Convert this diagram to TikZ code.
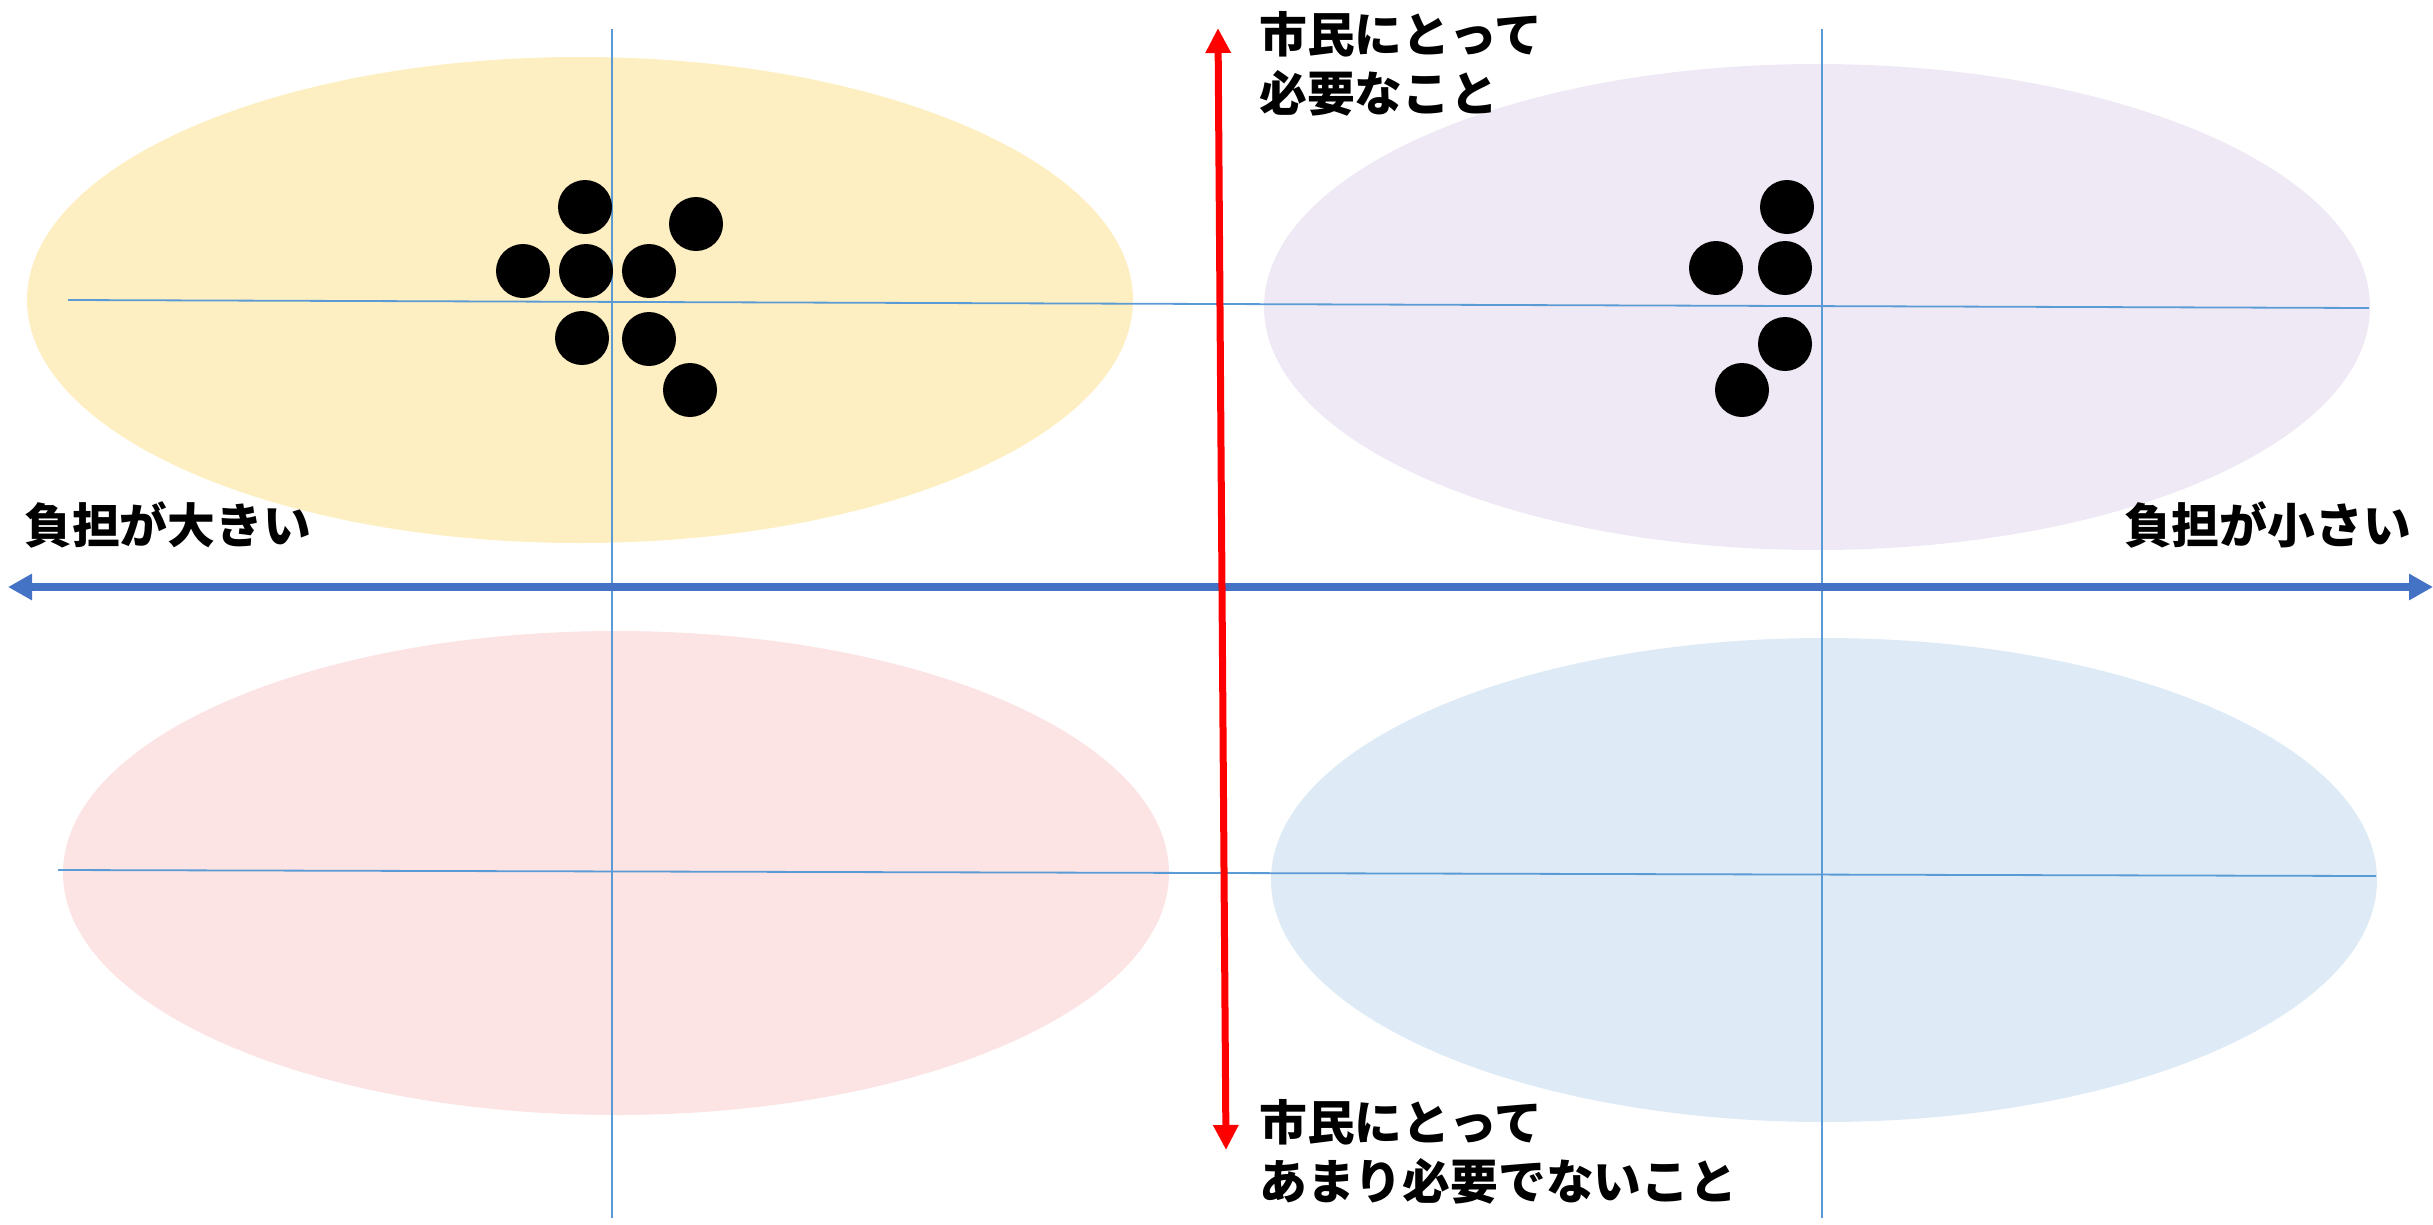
\documentclass[tikz,border=0pt]{standalone}
\usepackage{fontspec}
\newfontfamily\jp{Noto Sans CJK JP}
\usetikzlibrary{arrows.meta}
\definecolor{ylw}{HTML}{FEEFC3}
\definecolor{lav}{HTML}{EEE9F4}
\definecolor{pnk}{HTML}{FDE4E4}
\definecolor{lbl}{HTML}{DEEAF6}
\definecolor{thin}{HTML}{5B9BD5}
\definecolor{axisblue}{HTML}{4472C4}
\tikzset{
  guide/.style={draw=thin, line width=1.8pt},
  dotnode/.style={circle, fill=black, minimum size=54pt, inner sep=0pt},
  lab/.style={font=\jp\bfseries\fontsize{47.8}{59}\selectfont, inner sep=0pt, align=left},
  haxis/.style={draw=axisblue, line width=7.5pt, {Triangle[length=24pt,width=25pt]}-{Triangle[length=24pt,width=25pt]}},
  vaxis/.style={draw=red, line width=7pt, {Triangle[length=25pt,width=24pt]}-{Triangle[length=25pt,width=24pt]}}
}
\begin{document}
\begin{tikzpicture}[x=1pt,y=-1pt]
\useasboundingbox (0,0) rectangle (2433,1224);
% ellipses
\fill[ylw] (580,300) ellipse [x radius=553, y radius=243];
\fill[lav] (1817,307) ellipse [x radius=553, y radius=243];
\fill[pnk] (616,873) ellipse [x radius=553, y radius=242];
\fill[lbl] (1824,880) ellipse [x radius=553, y radius=242];
% guide lines
\coordinate (gl1) at (612,29);
\coordinate (gl2) at (612,1218);
\coordinate (gr1) at (1822,29);
\coordinate (gr2) at (1822,1218);
\coordinate (gt1) at (68,300);
\coordinate (gt2) at (2369,308);
\coordinate (gb1) at (58,870);
\coordinate (gb2) at (2376,876);
\draw[guide] (gl1) -- (gl2);
\draw[guide] (gr1) -- (gr2);
\draw[guide] (gt1) -- (gt2);
\draw[guide] (gb1) -- (gb2);
% dots left
\node[dotnode] (a1) at (585,207) {};
\node[dotnode] (a2) at (696,224) {};
\node[dotnode] (a3) at (523,271) {};
\node[dotnode] (a4) at (586,271) {};
\node[dotnode] (a5) at (649,271) {};
\node[dotnode] (a6) at (582,338) {};
\node[dotnode] (a7) at (649,339) {};
\node[dotnode] (a8) at (690,390) {};
% dots right
\node[dotnode] (b1) at (1787,207) {};
\node[dotnode] (b2) at (1716,268) {};
\node[dotnode] (b3) at (1785,268) {};
\node[dotnode] (b4) at (1785,344) {};
\node[dotnode] (b5) at (1742,390) {};
% axes
\coordinate (hl) at (8,587);
\coordinate (hr) at (2433,587);
\draw[haxis] (hl) -- (hr);
\coordinate (vt) at (1218,28);
\coordinate (vb) at (1226,1150);
\draw[vaxis] (vt) -- (vb);
% labels
\node[lab, anchor=west] (tl) at (1259,64) {市民にとって\\必要なこと};
\node[lab, anchor=west] (bl) at (1259,1152) {市民にとって\\あまり必要でないこと};
\node[lab, anchor=west] (ll) at (24,525) {負担が大きい};
\node[lab, anchor=east] (rl) at (2411,525) {負担が小さい};
\end{tikzpicture}
\end{document}
